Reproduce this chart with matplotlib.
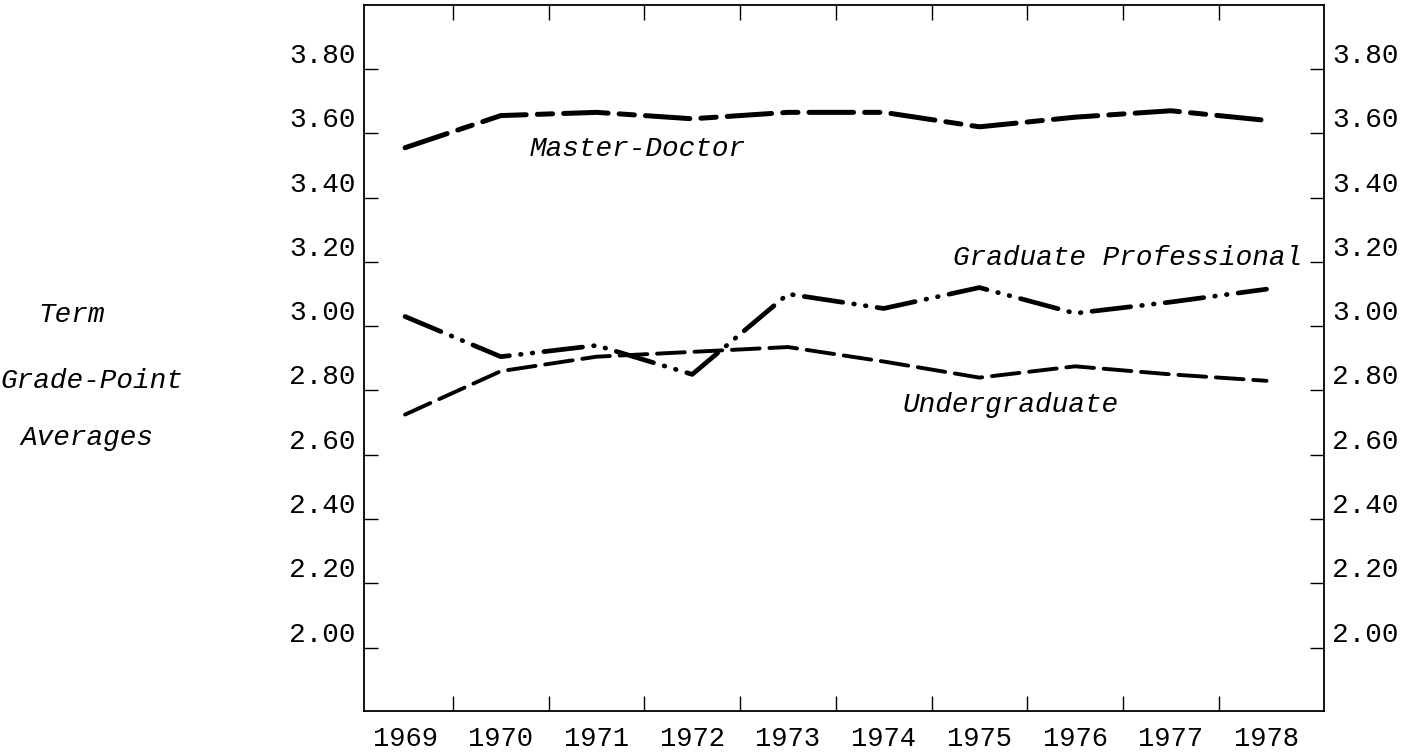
import matplotlib
matplotlib.use("Agg")
import matplotlib.pyplot as plt
import numpy as np

# term grade-point averages
years = [1969, 1970, 1971, 1972, 1973, 1974, 1975, 1976, 1977, 1978]
master_doctor = [3.555, 3.655, 3.665, 3.645, 3.665, 3.665, 3.62, 3.65, 3.67, 3.64]
grad_professional = [3.03, 2.905, 2.94, 2.85, 3.10, 3.055, 3.12, 3.04, 3.075, 3.115]
undergraduate = [2.725, 2.86, 2.905, 2.92, 2.935, 2.89, 2.84, 2.875, 2.85, 2.83]

yticks = [2.00, 2.20, 2.40, 2.60, 2.80, 3.00, 3.20, 3.40, 3.60, 3.80]
side_label = ["Term", "Grade-Point", "Averages"]

plt.rcParams["font.family"] = ["Liberation Mono", "DejaVu Sans Mono"]
plt.rcParams["lines.scale_dashes"] = False

fig = plt.figure(figsize=(14.16, 7.55), dpi=100)
ax = fig.add_axes([0.257, 0.0583, 0.678, 0.9351])

ax.plot(years, master_doctor, color="black", lw=3.6,
        dashes=(32, 8, 11, 8), dash_capstyle="round", solid_capstyle="round")
ax.plot(years, grad_professional, color="black", lw=3.4,
        dashes=(28, 8, 0.5, 8, 0.5, 8), dash_capstyle="round")
ax.plot(years, undergraduate, color="black", lw=2.8,
        dashes=(20, 7), dash_capstyle="round")

ax.set_xlim(1968.57, 1978.60)
ax.set_ylim(1.803, 3.999)

# year labels sit between the tick marks
ax.set_xticks(years)
ax.set_xticklabels([str(y) for y in years], fontsize=19.5)
ax.set_xticks(np.array(years[:-1]) + 0.5, minor=True)
ax.tick_params(axis="x", which="major", length=0, pad=11)
ax.tick_params(axis="x", which="minor", direction="in", length=11,
               width=1.0, top=True, bottom=True)

ax.set_yticks(yticks)
ax.set_yticklabels([f"{v:.2f}" for v in yticks], fontsize=20)
ax.tick_params(axis="y", direction="in", length=10, width=1.0,
               left=True, right=True, labelleft=True, labelright=True, pad=6)
for tick in ax.yaxis.get_major_ticks():
    tick.label1.set_verticalalignment("bottom")
    tick.label2.set_verticalalignment("bottom")

for sp in ax.spines.values():
    sp.set_linewidth(1.3)

ax.text(1971.43, 3.551, "Master-Doctor", style="italic", fontsize=20,
        ha="center", va="center")
ax.text(1978.37, 3.212, "Graduate Professional", style="italic", fontsize=20,
        ha="right", va="center")
ax.text(1974.2, 2.755, "Undergraduate", style="italic", fontsize=20,
        ha="left", va="center")

fig.text(0.0508, 0.5828, side_label[0], style="italic", fontsize=20,
         ha="center", va="center")
fig.text(0.065, 0.4954, side_label[1], style="italic", fontsize=20,
         ha="center", va="center")
fig.text(0.0614, 0.4199, side_label[2], style="italic", fontsize=20,
         ha="center", va="center")

fig.savefig("out.png", dpi=100)
